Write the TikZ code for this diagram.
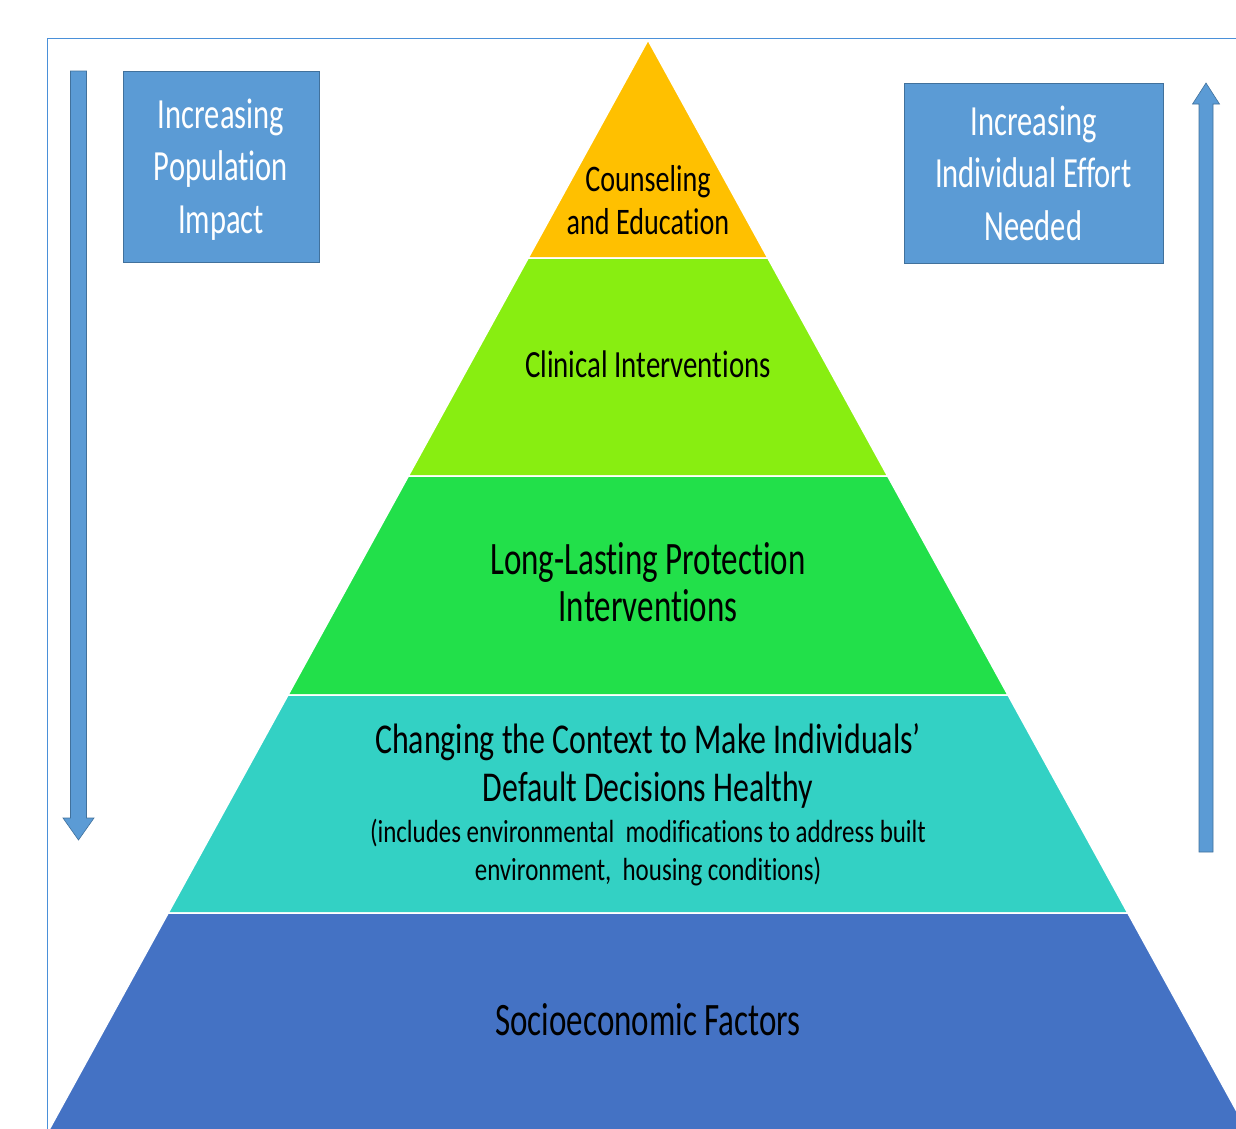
\documentclass[tikz,border=0pt]{standalone}
\usepackage{fontspec}
\setmainfont{Carlito}[FakeStretch=0.71,Ligatures={TeX,NoCommon}]
\newfontfamily\etwasbreiter{Carlito}[FakeStretch=0.75,Ligatures={TeX,NoCommon}]
\newfontfamily\breiter{Carlito}[FakeStretch=0.78,Ligatures={TeX,NoCommon}]
\usepackage{tikz}
\usetikzlibrary{positioning}
\definecolor{stufeEins}{HTML}{FFC000}
\definecolor{stufeZwei}{HTML}{88EE11}
\definecolor{stufeDrei}{HTML}{22E04A}
\definecolor{stufeVier}{HTML}{33D1C4}
\definecolor{stufeFuenf}{HTML}{4472C4}
\definecolor{kastenblau}{HTML}{5B9BD5}
\definecolor{kastenrand}{HTML}{41719C}
\definecolor{rahmen}{HTML}{4A90D9}

\begin{document}
\begin{tikzpicture}[x=1pt,y=-1pt,
  stufe/.style={draw=white,line width=1.5pt},
  kasten/.style={draw=kastenrand,fill=kastenblau,line width=0.8pt},
  kastentext/.style={text=white,align=center,font=\fontsize{43}{52.5}\selectfont},
  pfeil/.style={draw=kastenrand,fill=kastenblau,line width=0.6pt},
  beschriftung/.style={align=center,text=black,inner sep=0pt}]
\useasboundingbox (0,0) rectangle (1236,1128);
\clip (0,0) rectangle (1236,1128);
%Spitze der Pyramide und Steigung der Flanken (Pixel)
  \pgfmathsetmacro{\xS}{648}
  \pgfmathsetmacro{\yS}{40}
  \pgfmathsetmacro{\m}{598/1088}
%Stufen von oben nach unten
\foreach \oben/\unten/\farbe in {40/258/stufeEins,258/476/stufeZwei,476/695/stufeDrei,695/913/stufeVier,913/1140/stufeFuenf}{
\draw[stufe,fill=\farbe] ({\xS-\m*(\oben-\yS)},\oben) -- ({\xS+\m*(\oben-\yS)},\oben) -- ({\xS+\m*(\unten-\yS)},\unten) -- ({\xS-\m*(\unten-\yS)},\unten) -- cycle;
}
%Rahmen
\draw[rahmen,line width=1.5pt] (47.5,1130) -- (47.5,38.5) -- (1240,38.5);
%Texte
\node[beschriftung,font=\etwasbreiter\fontsize{37.5}{43}\selectfont] (beratung) at (648,200) {Counseling\\and Education};
\node[beschriftung,font=\etwasbreiter\fontsize{38.5}{46}\selectfont] (klinik) at (648,364) {Clinical Interventions};
\node[beschriftung,font=\fontsize{46.5}{47}\selectfont] (schutz) at (648,582) {Long-Lasting Protection\\Interventions};
\node[beschriftung,font=\etwasbreiter\fontsize{42.5}{48}\selectfont] (kontext) at (648,766) {Changing the Context to Make Individuals'\\Default Decisions Healthy};
\node[beschriftung,font=\breiter\fontsize{32}{38}\selectfont] (umwelt) at (648,853) {(includes environmental\ \ modifications to address built\\environment,\ \ housing conditions)};
\node[beschriftung,font=\fontsize{46.5}{48}\selectfont] (sozio) at (648,1020) {Socioeconomic Factors};
%Kaesten
\node[kasten,minimum width=196pt,minimum height=191pt] (wirkung) at (221,166.5) {};
\node[kastentext] (wirkungText) at ([yshift=-3pt]wirkung.center) {Increasing\\Population\\Impact};
\node[kasten,minimum width=259pt,minimum height=180pt] (aufwand) at (1033.5,173) {};
\node[kastentext] (aufwandText) at (aufwand.center) {Increasing\\Individual Effort\\Needed};
%Pfeile
\draw[pfeil] (70.5,71) -- (86.5,71) -- (86.5,818) -- (94,818) -- (78.5,840) -- (63,818) -- (70.5,818) -- cycle;
\draw[pfeil] (1199,852) -- (1213,852) -- (1213,104) -- (1219.5,104) -- (1206,83) -- (1192.5,104) -- (1199,104) -- cycle;
\end{tikzpicture}
\end{document}
